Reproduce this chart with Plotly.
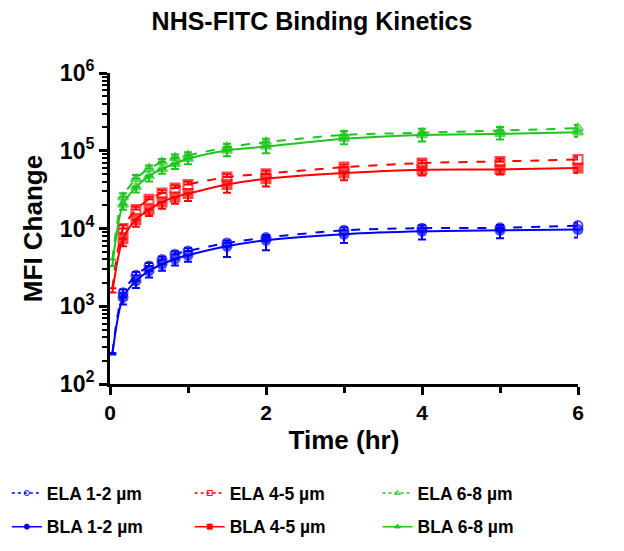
import plotly.graph_objects as go

# Time points (hr)
time_hr = [0.167, 0.333, 0.5, 0.667, 0.833, 1, 1.5, 2, 3, 4, 5, 6]

# MFI change values
ela_12 = [1490, 2500, 3300, 3980, 4670, 5140, 6510, 7640, 9480, 10100, 10200, 10900]
bla_12 = [1300, 2120, 2850, 3470, 4050, 4530, 5900, 7050, 8430, 9200, 9480, 9680]
ela_45 = [10000, 17500, 23700, 28600, 33100, 36900, 45800, 50700, 61600, 69400, 72900, 77300]
bla_45 = [7400, 13000, 17500, 21900, 25300, 28100, 36900, 43600, 51600, 57000, 57500, 59800]
ela_68 = [25300, 43600, 58700, 71400, 81300, 87000, 111000, 129000, 160000, 170000, 182000, 195000]
bla_68 = [20400, 34100, 47200, 58700, 68100, 78900, 101000, 113000, 143000, 160000, 165000, 173000]

# fitted curve start values near t = 0
start_t = 0.03
start_ela_12, start_bla_12 = 250, 240
start_ela_45, start_bla_45 = 1700, 1500
start_ela_68, start_bla_68 = 4000, 3300

# error bars (ELA upward, BLA downward)
err_ela_12 = [150, 250, 300, 350, 400, 450, 500, 600, 800, 900, 900, 1000]
err_bla_12 = [250, 400, 500, 600, 700, 800, 1600, 1800, 1900, 2000, 2000, 2000]
err_ela_45 = [1000, 1500, 2000, 2500, 3000, 3000, 4000, 4500, 5000, 6000, 6000, 6500]
err_bla_45 = [1500, 2500, 3000, 4000, 4500, 5500, 8000, 9000, 10000, 9000, 8000, 8000]
err_ela_68 = [3000, 5000, 6000, 7000, 8000, 9000, 12000, 14000, 20000, 22000, 20000, 20000]
err_bla_68 = [3000, 5000, 7000, 8000, 10000, 12000, 16000, 20000, 22000, 28000, 25000, 22000]

BLUE, RED, GREEN = "#0000ff", "#ff0000", "#1fc41f"

series = [
    ("ELA 1-2 µm", ela_12, start_ela_12, err_ela_12, BLUE, "circle-open", "dash"),
    ("BLA 1-2 µm", bla_12, start_bla_12, err_bla_12, BLUE, "circle", "solid"),
    ("ELA 4-5 µm", ela_45, start_ela_45, err_ela_45, RED, "square-open", "dash"),
    ("BLA 4-5 µm", bla_45, start_bla_45, err_bla_45, RED, "square", "solid"),
    ("ELA 6-8 µm", ela_68, start_ela_68, err_ela_68, GREEN, "triangle-up-open", "dash"),
    ("BLA 6-8 µm", bla_68, start_bla_68, err_bla_68, GREEN, "triangle-up", "solid"),
]

FONT = "Arial, Liberation Sans, sans-serif"
leg_x = [0.011, 0.011, 0.304, 0.304, 0.605, 0.605]
leg_y = [0.105, 0.044, 0.105, 0.044, 0.105, 0.044]

fig = go.Figure()
legends = {}
for i, (name, vals, start, err, col, sym, dash) in enumerate(series):
    leg_id = "legend" if i == 0 else f"legend{i + 1}"
    xs = [start_t] + time_hr
    ys = [start] + vals
    sizes = [0] + [9] * len(vals)
    errs = [0] + err
    zeros = [0] * len(errs)
    is_ela = name.startswith("ELA")
    fig.add_trace(go.Scatter(
        x=xs, y=ys, name=name, showlegend=False,
        mode="lines+markers",
        line=dict(color=col, width=2, dash=dash, shape="spline", smoothing=0.8),
        marker=dict(symbol=sym, size=sizes, color=col,
                    line=dict(color=col, width=2)),
        error_y=dict(type="data", symmetric=False,
                     array=errs if is_ela else zeros,
                     arrayminus=zeros if is_ela else errs,
                     color=col, thickness=2, width=4),
        cliponaxis=False,
    ))
    # legend entry (no data drawn)
    fig.add_trace(go.Scatter(
        x=[None], y=[None], name=name, legend=leg_id, showlegend=True,
        mode="lines+markers",
        line=dict(color=col, width=1.5, dash="dot" if is_ela else "solid"),
        marker=dict(symbol=sym, size=5, color=col, line=dict(color=col, width=1)),
    ))
    legends[leg_id] = dict(orientation="h", xref="container", yref="container",
                           x=leg_x[i], y=leg_y[i], xanchor="left", yanchor="middle",
                           font=dict(size=17.5, weight="bold", family=FONT),
                           bgcolor="rgba(0,0,0,0)")

minor_y = [m * 10 ** k for k in range(2, 6) for m in range(2, 10)]

fig.update_layout(
    width=624, height=551,
    margin=dict(l=110, r=46, t=73, b=167),
    paper_bgcolor="white", plot_bgcolor="white",
    font=dict(family=FONT, color="black"),
    title=dict(text="NHS-FITC Binding Kinetics", x=0.5, xref="container",
               y=0.962, yref="container", yanchor="middle",
               font=dict(size=25, weight="bold", family=FONT)),
    xaxis=dict(
        range=[0, 6], tickmode="array", tickvals=[0, 2, 4, 6],
        ticks="outside", ticklen=8, tickwidth=2.5, tickcolor="black",
        showline=True, linewidth=3, linecolor="black", showgrid=False, zeroline=False,
        tickfont=dict(size=21, weight="bold", family=FONT),
        minor=dict(tickmode="array", tickvals=[1, 3, 5], ticks="outside",
                   ticklen=6, tickwidth=2.5, tickcolor="black", showgrid=False),
        title=dict(text="Time (hr)", font=dict(size=26, weight="bold", family=FONT), standoff=8),
        automargin=False,
    ),
    yaxis=dict(
        type="log", range=[2, 6], tickmode="array",
        tickvals=[1e2, 1e3, 1e4, 1e5, 1e6],
        ticktext=["10<sup>2</sup>", "10<sup>3</sup>", "10<sup>4</sup>", "10<sup>5</sup>", "10<sup>6</sup>"],
        ticks="outside", ticklen=8, tickwidth=2.5, tickcolor="black",
        showline=True, linewidth=3, linecolor="black", showgrid=False, zeroline=False,
        tickfont=dict(size=23, weight="bold", family=FONT),
        minor=dict(tickmode="array", tickvals=minor_y, ticks="outside",
                   ticklen=5, tickwidth=2, tickcolor="black", showgrid=False),
        title=dict(text="MFI Change", font=dict(size=26, weight="bold", family=FONT), standoff=10),
        automargin=False,
    ),
    showlegend=True,
    **legends,
)

fig.write_html("out.html", config={"displayModeBar": False},
               post_script="document.body.style.margin='0px';document.body.style.padding='0px';")
